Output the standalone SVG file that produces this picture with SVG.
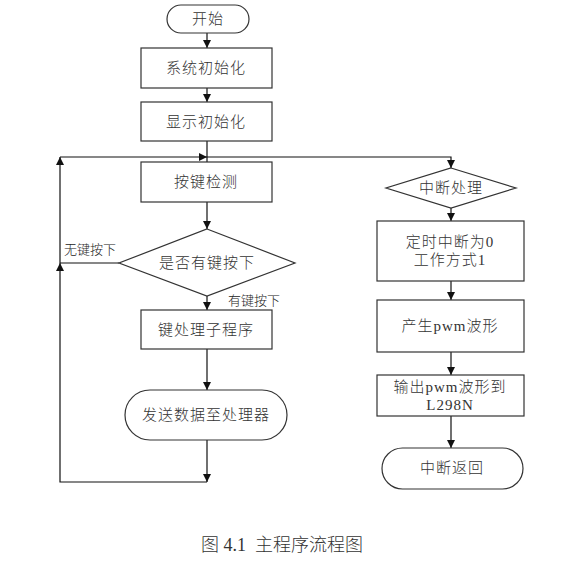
<svg xmlns="http://www.w3.org/2000/svg" width="579" height="576" viewBox="0 0 579 576">
<defs>
<style>
.n{fill:#fff;stroke:#333;stroke-width:1.2}
.t{font-family:"Liberation Serif","Noto Sans CJK SC",serif;font-size:15px;font-weight:300;letter-spacing:1px;fill:#333;text-anchor:middle}
.l{font-family:"Liberation Serif","Noto Sans CJK SC",serif;font-size:13px;font-weight:300;fill:#222}
.c{fill:none;stroke:#111;stroke-width:1.2}
</style>
<marker id="a" viewBox="0 0 10 10" refX="10" refY="5" markerWidth="8" markerHeight="8" markerUnits="userSpaceOnUse" orient="auto">
<path d="M0,0 L10,5 L0,10 Z" fill="#111"/>
</marker>
</defs>
<rect width="579" height="576" fill="#fff"/>
<g id="connectors">
<line class="c" x1="207" y1="33" x2="207" y2="48" marker-end="url(#a)"/>
<line class="c" x1="207" y1="88" x2="207" y2="102" marker-end="url(#a)"/>
<line class="c" x1="207" y1="141" x2="207" y2="162"/>
<polyline class="c" points="60,157 207,157" marker-end="url(#a)"/>
<polyline class="c" points="207,157 451,157 451,168" marker-end="url(#a)"/>
<line class="c" x1="207" y1="202" x2="207" y2="229" marker-end="url(#a)"/>
<line class="c" x1="207" y1="296" x2="207" y2="310" marker-end="url(#a)"/>
<line class="c" x1="207" y1="349" x2="207" y2="390" marker-end="url(#a)"/>
<line class="c" x1="207" y1="440" x2="207" y2="482" marker-end="url(#a)"/>
<polyline class="c" points="207,482 60,482 60,263" marker-end="url(#a)"/>
<polyline class="c" points="60,263 60,157" marker-end="url(#a)"/>
<line class="c" x1="119" y1="263" x2="60" y2="263"/>
<line class="c" x1="451" y1="208" x2="451" y2="221" marker-end="url(#a)"/>
<line class="c" x1="451" y1="281" x2="451" y2="300" marker-end="url(#a)"/>
<line class="c" x1="451" y1="352" x2="451" y2="375" marker-end="url(#a)"/>
<line class="c" x1="451" y1="416" x2="451" y2="448" marker-end="url(#a)"/>
<text class="l" x="64" y="254">无键按下</text>
<text class="l" x="228" y="305">有键按下</text>
</g>
<g id="start"><rect class="n" x="167" y="5" width="82" height="28" rx="14"/><text class="t" x="208" y="24">开始</text></g>
<g id="sysinit"><rect class="n" x="141" y="48" width="131" height="40"/><text class="t" x="206" y="73">系统初始化</text></g>
<g id="dispinit"><rect class="n" x="141" y="102" width="131" height="39"/><text class="t" x="206" y="127">显示初始化</text></g>
<g id="keydetect"><rect class="n" x="141" y="162" width="131" height="40"/><text class="t" x="206" y="187">按键检测</text></g>
<g id="keypressed"><polygon class="n" points="207,229 295,263 207,296 119,263"/><text class="t" x="207" y="268">是否有键按下</text></g>
<g id="keyproc"><rect class="n" x="141" y="310" width="131" height="39"/><text class="t" x="206" y="335">键处理子程序</text></g>
<g id="send"><rect class="n" x="125" y="390" width="162" height="50" rx="25"/><text class="t" x="206" y="420">发送数据至处理器</text></g>
<g id="interrupt"><polygon class="n" points="451,168 516,188 451,208 386,188"/><text class="t" x="451" y="193">中断处理</text></g>
<g id="timer"><rect class="n" x="377" y="221" width="147" height="60"/><text class="t" x="450" y="247">定时中断为0</text><text class="t" x="450" y="265">工作方式1</text></g>
<g id="pwmgen"><rect class="n" x="377" y="300" width="147" height="52"/><text class="t" x="450" y="331">产生pwm波形</text></g>
<g id="pwmout"><rect class="n" x="377" y="375" width="147" height="41"/><text class="t" x="450" y="392">输出pwm波形到</text><text class="t" x="450" y="410">L298N</text></g>
<g id="ret"><rect class="n" x="382" y="448" width="141" height="41" rx="20.5"/><text class="t" x="452" y="473">中断返回</text></g>
<text x="282" y="551" xml:space="preserve" style="white-space:pre;font-family:'Liberation Serif','Noto Sans CJK SC',serif;font-size:18px;font-weight:300;fill:#333;text-anchor:middle">图 4.1  主程序流程图</text>
</svg>
